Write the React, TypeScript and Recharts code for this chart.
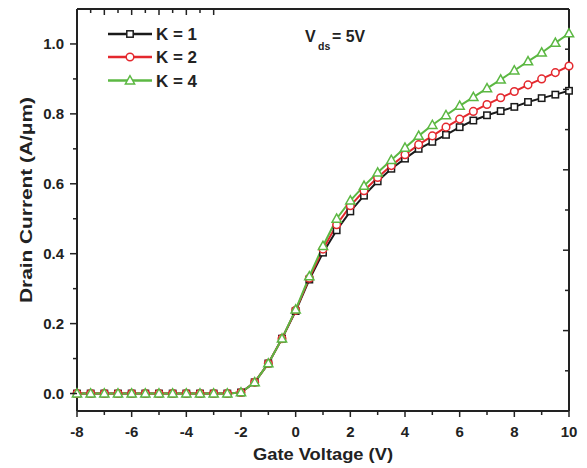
import React from 'react';
import { LineChart, Line, XAxis, YAxis } from 'recharts';

const gateVoltage = [
  -8, -7.5, -7, -6.5, -6, -5.5, -5, -4.5, -4, -3.5, -3, -2.5, -2, -1.5, -1, -0.5,
  0, 0.5, 1, 1.5, 2, 2.5, 3, 3.5, 4, 4.5, 5, 5.5, 6, 6.5, 7, 7.5, 8, 8.5, 9, 9.5, 10,
];
const currentK1 = [
  0, 0, 0, 0, 0, 0, 0, 0, 0, 0, 0, 0, 0.003, 0.032, 0.086, 0.157,
  0.236, 0.326, 0.403, 0.467, 0.521, 0.566, 0.607, 0.643, 0.672, 0.7, 0.72, 0.74, 0.762,
  0.781, 0.796, 0.808, 0.82, 0.834, 0.845, 0.855, 0.866,
];
const currentK2 = [
  0, 0, 0, 0, 0, 0, 0, 0, 0, 0, 0, 0, 0.003, 0.032, 0.086, 0.157,
  0.238, 0.33, 0.413, 0.483, 0.537, 0.58, 0.618, 0.652, 0.683, 0.712, 0.737, 0.762, 0.785,
  0.807, 0.827, 0.846, 0.864, 0.883, 0.9, 0.918, 0.937,
];
const currentK4 = [
  0, 0, 0, 0, 0, 0, 0, 0, 0, 0, 0, 0, 0.003, 0.032, 0.086, 0.157,
  0.24, 0.335, 0.422, 0.5, 0.552, 0.594, 0.632, 0.668, 0.703, 0.737, 0.768, 0.796, 0.823,
  0.848, 0.873, 0.898, 0.924, 0.95, 0.975, 1.003, 1.03,
];

const xTicks = [-8, -7, -6, -5, -4, -3, -2, -1, 0, 1, 2, 3, 4, 5, 6, 7, 8, 9, 10];
const yTicks = [0, 0.1, 0.2, 0.3, 0.4, 0.5, 0.6, 0.7, 0.8, 0.9, 1.0];
const topTicks = [0, 1, 2, 3, 4, 5, 6, 7, 8, 9, 10];
const rightTicks = [0, 1, 2, 3, 4, 5, 6, 7, 8, 9, 10];

const seriesNames = ['K = 1', 'K = 2', 'K = 4'];
const seriesColors = ['#1a1a1a', '#e4282e', '#5cb843'];

const data = gateVoltage.map((v, i) => ({
  v,
  k1: currentK1[i],
  k2: currentK2[i],
  k4: currentK4[i],
}));

const FONT = '"Liberation Sans", Arial, sans-serif';
const AXIS = '#222';

const SquareMark = ({ cx, cy, color }: any) => (
  <rect x={cx - 3.2} y={cy - 3.2} width={6.4} height={6.4} fill="#fff" stroke={color} strokeWidth={1.5} />
);
const CircleMark = ({ cx, cy, color }: any) => (
  <circle cx={cx} cy={cy} r={3.8} fill="#fff" stroke={color} strokeWidth={1.5} />
);
const TriangleMark = ({ cx, cy, color }: any) => (
  <polygon
    points={`${cx},${cy - 4.8} ${cx - 4.6},${cy + 3.4} ${cx + 4.6},${cy + 3.4}`}
    fill="#fff"
    stroke={color}
    strokeWidth={1.5}
  />
);
const markers = [SquareMark, CircleMark, TriangleMark];

const makeDot = (idx: number) => (props: any) => {
  const M = markers[idx];
  if (props.cx == null || props.cy == null) return <g key={`d${idx}-${props.index}`} />;
  return (
    <g key={`d${idx}-${props.index}`}>
      <M cx={props.cx} cy={props.cy} color={seriesColors[idx]} />
    </g>
  );
};

const BottomTick = ({ x, y, payload }: any) => {
  const major = Math.round(payload.value) % 2 === 0;
  return (
    <g>
      <line x1={x} y1={y} x2={x} y2={y + (major ? 6 : 4)} stroke={AXIS} strokeWidth={1.5} />
      {major && (
        <text x={x} y={y + 26} textAnchor="middle" fontFamily={FONT} fontWeight="bold" fontSize={15} fill="#222">
          {payload.value}
        </text>
      )}
    </g>
  );
};

const LeftTick = ({ x, y, payload }: any) => {
  const major = Math.round(payload.value * 10) % 2 === 0;
  return (
    <g>
      <line x1={x} y1={y} x2={x - (major ? 7 : 4)} y2={y} stroke={AXIS} strokeWidth={1.5} />
      {major && (
        <text x={x - 13} y={y + 5} textAnchor="end" fontFamily={FONT} fontWeight="bold" fontSize={15} fill="#222">
          {payload.value.toFixed(1)}
        </text>
      )}
    </g>
  );
};

const TopTick = ({ x, y, payload }: any) => {
  const major = Math.round(payload.value) % 2 === 0;
  return <line x1={x} y1={y} x2={x} y2={y + (major ? 6 : 4)} stroke={AXIS} strokeWidth={1.5} />;
};

const RightTick = ({ x, y, payload }: any) => {
  const major = Math.round(payload.value) % 2 === 0;
  return <line x1={x} y1={y} x2={x - (major ? 6 : 4)} y2={y} stroke={AXIS} strokeWidth={1.5} />;
};

export default function App() {
  const legendRows = [34, 57, 80.5];
  return (
    <div style={{ position: 'absolute', left: 0, top: 0, width: 587, height: 468, background: '#fff' }}>
      <LineChart width={587} height={468} data={data} margin={{ top: 8, right: 17, left: 17, bottom: 0 }}>
        <XAxis
          dataKey="v"
          type="number"
          domain={[-8, 10]}
          ticks={xTicks}
          interval={0}
          height={57}
          tickSize={0}
          tickMargin={0}
          tickLine={false}
          axisLine={{ stroke: AXIS, strokeWidth: 2 }}
          tick={<BottomTick />}
        />
        <XAxis
          xAxisId="top"
          orientation="top"
          type="number"
          domain={[0, 10]}
          ticks={topTicks}
          interval={0}
          height={1}
          tickSize={0}
          tickMargin={0}
          tickLine={false}
          allowDataOverflow
          axisLine={{ stroke: AXIS, strokeWidth: 2 }}
          tick={<TopTick />}
        />
        <YAxis
          type="number"
          domain={[-0.05, 1.1]}
          ticks={yTicks}
          interval={0}
          width={60}
          tickSize={0}
          tickMargin={0}
          tickLine={false}
          axisLine={{ stroke: AXIS, strokeWidth: 2 }}
          tick={<LeftTick />}
        />
        <YAxis
          yAxisId="right"
          orientation="right"
          type="number"
          domain={[0, 10]}
          ticks={rightTicks}
          interval={0}
          width={1}
          tickSize={0}
          tickMargin={0}
          tickLine={false}
          allowDataOverflow
          axisLine={{ stroke: AXIS, strokeWidth: 2 }}
          tick={<RightTick />}
        />
        <Line dataKey="k1" stroke={seriesColors[0]} strokeWidth={2} dot={makeDot(0)} isAnimationActive={false} />
        <Line dataKey="k2" stroke={seriesColors[1]} strokeWidth={2} dot={makeDot(1)} isAnimationActive={false} />
        <Line dataKey="k4" stroke={seriesColors[2]} strokeWidth={2} dot={makeDot(2)} isAnimationActive={false} />
      </LineChart>
      <svg
        width={587}
        height={468}
        style={{ position: 'absolute', left: 0, top: 0, pointerEvents: 'none' }}
        fontFamily={FONT}
        fontWeight="bold"
        fill="#222"
      >
        {seriesNames.map((name, i) => {
          const M = markers[i];
          const y = legendRows[i];
          return (
            <g key={name}>
              <line x1={108} y1={y} x2={152} y2={y} stroke={seriesColors[i]} strokeWidth={2.5} />
              <M cx={130} cy={y} color={seriesColors[i]} />
              <text x={156} y={y + 6} fontSize={16} textLength={41} lengthAdjust="spacingAndGlyphs">
                {name}
              </text>
            </g>
          );
        })}
        <text x={305} y={42} fontSize={16}>V</text>
        <text x={318} y={50} fontSize={10.5}>ds</text>
        <text x={332} y={42} fontSize={16} textLength={33} lengthAdjust="spacingAndGlyphs">= 5V</text>
        <text x={253} y={460} fontSize={16} textLength={140} lengthAdjust="spacingAndGlyphs">
          Gate Voltage (V)
        </text>
        <text
          transform="translate(31.5,303) rotate(-90)"
          x={0}
          y={0}
          fontSize={16}
          textLength={206}
          lengthAdjust="spacingAndGlyphs"
        >
          Drain Current (A/μm)
        </text>
      </svg>
    </div>
  );
}
